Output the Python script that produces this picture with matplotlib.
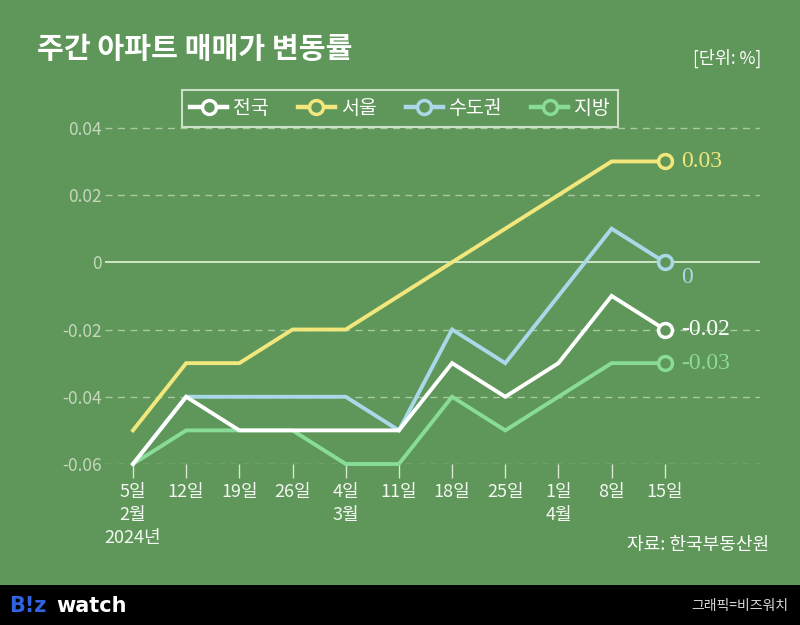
import matplotlib.pyplot as plt
from matplotlib.lines import Line2D

plt.rcParams['font.family'] = ['Noto Sans CJK KR', 'DejaVu Sans']

labels = ["5일\n2월\n2024년", "12일", "19일", "26일", "4일\n3월", "11일",
          "18일", "25일", "1일\n4월", "8일", "15일"]
nation = [-0.06, -0.04, -0.05, -0.05, -0.05, -0.05, -0.03, -0.04, -0.03, -0.01, -0.02]
seoul = [-0.05, -0.03, -0.03, -0.02, -0.02, -0.01, 0.00, 0.01, 0.02, 0.03, 0.03]
capital = [-0.06, -0.04, -0.04, -0.04, -0.04, -0.05, -0.02, -0.03, -0.01, 0.01, 0.00]
local = [-0.06, -0.05, -0.05, -0.05, -0.06, -0.06, -0.04, -0.05, -0.04, -0.03, -0.03]
names = ["전국", "서울", "수도권", "지방"]
end_text = ["-0.02", "0.03", "0", "-0.03"]
yticks = [-0.06, -0.04, -0.02, 0, 0.02, 0.04]
ytick_labels = ["-0.06", "-0.04", "-0.02", "0", "0.02", "0.04"]

bg = "#5f9659"
colors = ["#ffffff", "#f1e77c", "#a9d9e8", "#88dc97"]
series = [nation, seoul, capital, local]
x = list(range(len(labels)))

fig = plt.figure(figsize=(8, 6.25), dpi=100)
fig.patch.set_facecolor(bg)
ax = fig.add_axes([0.131, 0.2576, 0.819, 0.5648])
ax.set_facecolor(bg)
ax.set_xlim(-0.53, 11.79)
ax.set_ylim(-0.06, 0.045)

for yv in yticks:
    if yv == 0:
        ax.axhline(yv, color="#d8ecd0", lw=1.3, zorder=1)
    else:
        ax.axhline(yv, color="#a9c9a2", lw=1, ls=(0, (5, 4)), zorder=1)

# draw order: green, blue, white, yellow
for i in [3, 2, 0, 1]:
    ax.plot(x, series[i], color=colors[i], lw=2.8, zorder=3, clip_on=False,
            solid_joinstyle="miter")
    ax.plot(x[-1], series[i][-1], marker="o", ms=10, mfc=bg, mec=colors[i],
            mew=2.5, zorder=4, clip_on=False)

for i, txt in enumerate(end_text):
    yv = series[i][-1]
    dy = -0.0015 if i == 2 else 0
    va = "top" if i == 2 else "center"
    ax.text(x[-1] + 0.3, yv + dy, txt, color=colors[i], fontsize=17,
            family="Liberation Serif", va=va, ha="left")

for s in ax.spines.values():
    s.set_visible(False)
ax.set_yticks(yticks)
ax.set_yticklabels(ytick_labels, color="#c4d8bc", fontsize=12.5)
ax.tick_params(axis="y", length=0, pad=2)
ax.set_xticks(x)
ax.set_xticklabels(labels, color="#f4f8f2", fontsize=13, linespacing=1.35,
                   va="top")
ax.tick_params(axis="x", length=10, color="#d8e8d2", width=1, pad=4)

fig.text(0.046, 0.922, "주간 아파트 매매가 변동률", color="white", fontsize=21,
         fontweight="heavy", va="center", ha="left")
fig.text(0.952, 0.906, "[단위: %]", color="white", fontsize=12.5, va="center",
         ha="right")

handles = [Line2D([0], [0], color=colors[i], lw=3.2, marker="o", ms=10,
                  mfc=bg, mec=colors[i], mew=2.5) for i in range(4)]
leg = fig.legend(handles, names, loc="center", bbox_to_anchor=(0.5, 0.826),
                 ncol=4, frameon=True, fancybox=False, fontsize=14,
                 handlelength=1.9, handletextpad=0.3, columnspacing=1.5,
                 borderpad=0.4)
leg.get_frame().set_facecolor(bg)
leg.get_frame().set_edgecolor("#e8f4e4")
leg.get_frame().set_linewidth(1.5)
for t in leg.get_texts():
    t.set_color("white")

fig.text(0.962, 0.128, "자료: 한국부동산원", color="white", fontsize=13,
         ha="right", va="center")

fig.patches.append(plt.Rectangle((0, 0), 1, 0.064, transform=fig.transFigure,
                                 facecolor="black", zorder=0))
fig.text(0.012, 0.031, "B!z", color="#2f63e0", fontsize=15, fontweight="bold",
         va="center", ha="left", family="DejaVu Sans")
fig.text(0.07, 0.031, "watch", color="white", fontsize=15, fontweight="bold",
         va="center", ha="left", family="DejaVu Sans")
fig.text(0.985, 0.031, "그래픽=비즈워치", color="#d8d8d8", fontsize=10,
         va="center", ha="right")

fig.savefig("out.png", dpi=100, facecolor=bg)
